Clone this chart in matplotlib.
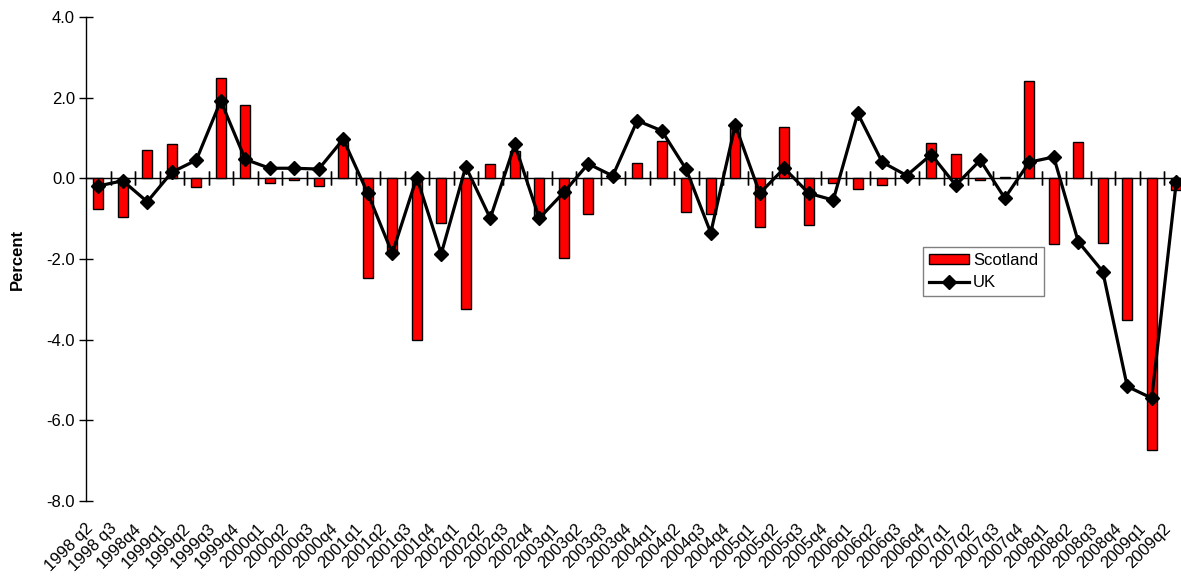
import matplotlib
matplotlib.use('Agg')
import matplotlib.pyplot as plt
import matplotlib.transforms as mtransforms
import numpy as np

plt.rcParams['font.family'] = ['Liberation Sans', 'DejaVu Sans']

quarters = ['1998 q2', '1998 q3', '1998q4', '1999q1', '1999q2', '1999q3', '1999q4',
            '2000q1', '2000q2', '2000q3', '2000q4', '2001q1', '2001q2', '2001q3', '2001q4',
            '2002q1', '2002q2', '2002q3', '2002q4', '2003q1', '2003q2', '2003q3', '2003q4',
            '2004q1', '2004q2', '2004q3', '2004q4', '2005q1', '2005q2', '2005q3', '2005q4',
            '2006q1', '2006q2', '2006q3', '2006q4', '2007q1', '2007q2', '2007q3', '2007q4',
            '2008q1', '2008q2', '2008q3', '2008q4', '2009q1', '2009q2']

scotland = [-0.77, -0.97, 0.71, 0.84, -0.21, 2.50, 1.83,
            -0.11, -0.03, -0.19, 0.90, -2.47, -1.86, -4.00, -1.10,
            -3.24, 0.36, 0.68, -0.93, -1.97, -0.89, 0.03, 0.37,
            0.93, -0.83, -0.88, 1.24, -1.21, 1.28, -1.16, -0.12,
            -0.27, -0.16, 0.01, 0.88, 0.61, -0.03, 0.04, 2.42,
            -1.63, 0.91, -1.60, -3.52, -6.74, -0.30]

uk = [-0.19, -0.06, -0.58, 0.15, 0.45, 1.92, 0.47,
      0.25, 0.25, 0.23, 0.97, -0.37, -1.86, 0.02, -1.87,
      0.29, -0.99, 0.84, -0.99, -0.35, 0.36, 0.06, 1.43,
      1.18, 0.22, -1.35, 1.32, -0.37, 0.25, -0.37, -0.54,
      1.61, 0.40, 0.07, 0.59, -0.17, 0.45, -0.49, 0.40,
      0.53, -1.57, -2.31, -5.16, -5.45, -0.10]

x = np.arange(len(quarters))

fig = plt.figure(figsize=(11.81, 5.77), dpi=100)
ax = fig.add_axes([86 / 1181, 1 - 501 / 577, 1102.5 / 1181, 484 / 577])

bars = ax.bar(x, scotland, width=0.42, color='#ff0000', edgecolor='black', linewidth=1.0,
              label='Scotland', zorder=2)
line, = ax.plot(x, uk, color='black', linewidth=2.3, marker='D', markersize=7,
                label='UK', zorder=3)

ax.set_xlim(-0.5, len(quarters) - 0.5)
ax.set_ylim(-8, 4)
yt = np.arange(-8, 4.1, 2)
ax.set_yticks(yt)
ax.set_yticklabels(['%.1f' % v for v in yt], fontsize=12)
ax.tick_params(axis='y', direction='inout', length=10, width=1, pad=3)

for s in ['top', 'right', 'bottom']:
    ax.spines[s].set_visible(False)
ax.spines['left'].set_linewidth(1)

# category labels along the bottom
ax.set_xticks(x)
ax.set_xticklabels(quarters, rotation=45, ha='right', va='center',
                   rotation_mode='anchor', fontsize=12)
ax.tick_params(axis='x', length=0, pad=18)
shift = mtransforms.ScaledTranslation(-8 / 100, 0, fig.dpi_scale_trans)
for lab in ax.get_xticklabels():
    lab.set_transform(lab.get_transform() + shift)

# zero line with category boundary ticks
sec = ax.secondary_xaxis(2 / 3)
sec.set_xticks(x + 0.5)
sec.set_xticklabels([])
sec.tick_params(axis='x', direction='inout', length=10, width=1,
                top=True, bottom=True, labeltop=False, labelbottom=False)
sec.spines['top'].set_linewidth(1)
sec.spines['bottom'].set_linewidth(1)

ax.set_ylabel('Percent', fontsize=12, fontweight='bold')
ax.yaxis.set_label_coords((25 - 86) / 1102.5, 0.5)

leg = ax.legend([bars, line], ['Scotland', 'UK'], loc='upper left',
                bbox_to_anchor=((923 - 86) / 1102.5, 1 - (247 - 17) / 484),
                fontsize=12, frameon=True, fancybox=False, borderpad=0.35,
                handlelength=2.4, handleheight=0.6, handletextpad=0.25,
                labelspacing=0.45, borderaxespad=0)
leg.get_frame().set_edgecolor('#606060')
leg.get_frame().set_linewidth(1)

fig.savefig('out.png', dpi=100)
